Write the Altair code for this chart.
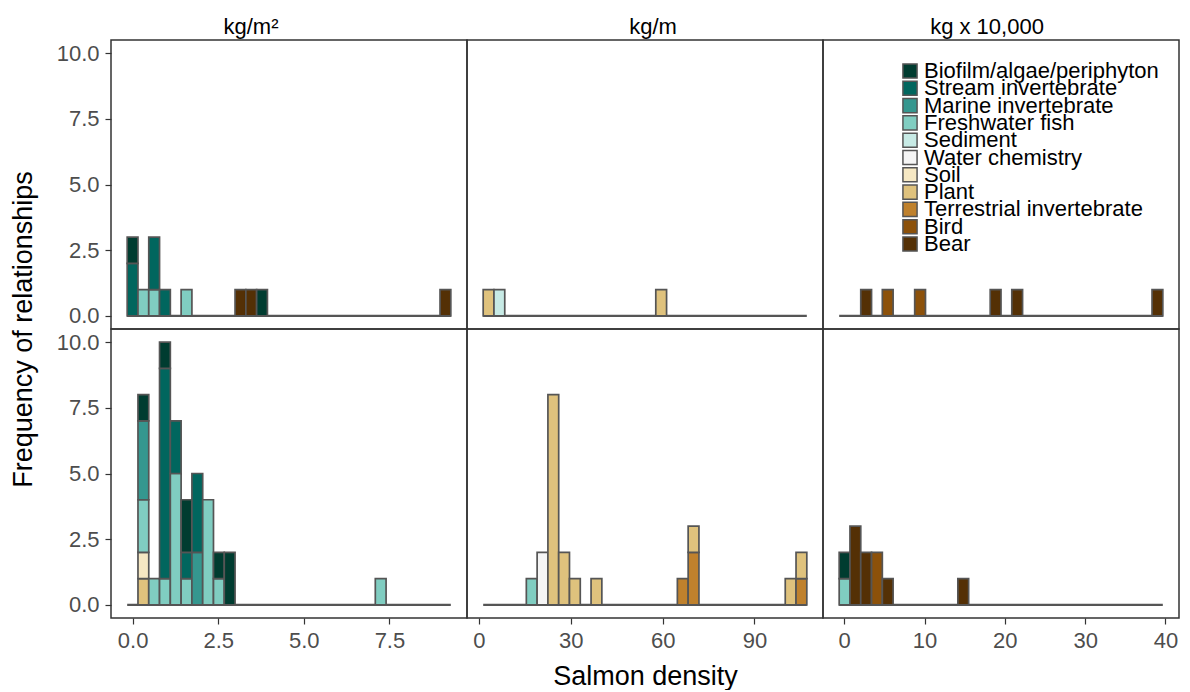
import altair as alt
import pandas as pd

# ---------------- data ----------------
units = ["kg/m²", "kg/m", "kg x 10,000"]
categories = ["Biofilm/algae/periphyton", "Stream invertebrate", "Marine invertebrate",
              "Freshwater fish", "Sediment", "Water chemistry", "Soil", "Plant",
              "Terrestrial invertebrate", "Bird", "Bear"]
palette = ["#003c30", "#01665e", "#35978f", "#80cdc1", "#c7eae5", "#f5f5f5",
           "#f6e8c3", "#dfc27d", "#bf812d", "#8c510a", "#543005"]

# histogram bins (30 bins per column)
bin_first_center = [0.0, 3.16, 0.05]
bin_width = [0.315, 3.523, 1.343]
n_bins = 30

x_ticks = [[0, 2.5, 5, 7.5], [0, 30, 60, 90], [0, 10, 20, 30, 40]]
x_formats = [".1f", "d", "d"]
y_ticks = [0, 2.5, 5, 7.5, 10]

# top row, kg/m2
tl_bin = [0, 0, 1, 2, 2, 3, 5, 10, 11, 12, 29]
tl_cat = ["Stream invertebrate", "Biofilm/algae/periphyton", "Freshwater fish", "Freshwater fish",
          "Stream invertebrate", "Stream invertebrate", "Freshwater fish", "Bear", "Bear",
          "Biofilm/algae/periphyton", "Bear"]
tl_count = [2, 1, 1, 1, 2, 1, 1, 1, 1, 1, 1]

# bottom row, kg/m2
bl_bin = [1, 1, 1, 1, 1, 2, 3, 3, 3, 4, 4, 5, 5, 5, 6, 6, 7, 8, 8, 9, 23]
bl_cat = ["Plant", "Soil", "Freshwater fish", "Marine invertebrate", "Biofilm/algae/periphyton",
          "Freshwater fish",
          "Freshwater fish", "Stream invertebrate", "Biofilm/algae/periphyton",
          "Freshwater fish", "Stream invertebrate",
          "Freshwater fish", "Stream invertebrate", "Biofilm/algae/periphyton",
          "Marine invertebrate", "Stream invertebrate",
          "Freshwater fish",
          "Freshwater fish", "Biofilm/algae/periphyton",
          "Biofilm/algae/periphyton",
          "Freshwater fish"]
bl_count = [1, 1, 2, 3, 1, 1, 1, 8, 1, 5, 2, 1, 1, 2, 2, 3, 4, 1, 1, 2, 1]

# top row, kg/m
tm_bin = [0, 1, 16]
tm_cat = ["Plant", "Sediment", "Plant"]
tm_count = [1, 1, 1]

# bottom row, kg/m
bm_bin = [4, 5, 6, 7, 8, 10, 18, 19, 19, 28, 29, 29]
bm_cat = ["Freshwater fish", "Water chemistry", "Plant", "Plant", "Plant", "Plant",
          "Terrestrial invertebrate", "Terrestrial invertebrate", "Plant", "Plant",
          "Terrestrial invertebrate", "Plant"]
bm_count = [1, 2, 8, 2, 1, 1, 1, 2, 1, 1, 1, 1]

# top row, kg x 10,000
tr_bin = [2, 4, 7, 14, 16, 29]
tr_cat = ["Bear", "Bird", "Bird", "Bear", "Bear", "Bear"]
tr_count = [1, 1, 1, 1, 1, 1]

# bottom row, kg x 10,000
br_bin = [0, 0, 1, 2, 3, 4, 11]
br_cat = ["Freshwater fish", "Biofilm/algae/periphyton", "Bear", "Bear", "Bird", "Bear", "Bear"]
br_count = [1, 1, 3, 2, 2, 1, 1]

panels = {
    (0, 0): (tl_bin, tl_cat, tl_count), (1, 0): (tm_bin, tm_cat, tm_count), (2, 0): (tr_bin, tr_cat, tr_count),
    (0, 1): (bl_bin, bl_cat, bl_count), (1, 1): (bm_bin, bm_cat, bm_count), (2, 1): (br_bin, br_cat, br_count),
}

FONT = "Liberation Sans"
PW, PH = 356, 289
OUT = "#555555"
color_scale = alt.Scale(domain=categories, range=palette)


def panel_df(ui, ri):
    b, c, n = panels[(ui, ri)]
    df = pd.DataFrame({"bin": b, "category": c, "count": n})
    df["rank"] = df["category"].map(lambda s: -categories.index(s))
    df = df.sort_values(["bin", "rank"])
    df["y1"] = df.groupby("bin")["count"].cumsum()
    df["y0"] = df["y1"] - df["count"]
    w = bin_width[ui]
    center = bin_first_center[ui] + df["bin"] * w
    df["x0"] = center - w / 2
    df["x1"] = center + w / 2
    return df


def legend_layers():
    ldf = pd.DataFrame({"category": categories})
    ly = alt.Y("category:N", axis=None,
               scale=alt.Scale(type="point", domain=categories, range=[31, 204], padding=0))
    squares = alt.Chart(ldf).mark_square(size=200, stroke=OUT, strokeWidth=1.5, opacity=1).encode(
        x=alt.value(87), y=ly,
        color=alt.Color("category:N", scale=color_scale, legend=None),
    )
    texts = alt.Chart(ldf).mark_text(align="left", baseline="middle", font=FONT, fontSize=22,
                                     color="black").encode(
        x=alt.value(101), y=ly, text="category:N",
    )
    return [squares, texts]


def make_panel(ui, ri):
    w = bin_width[ui]
    lo = bin_first_center[ui] - w / 2
    hi = bin_first_center[ui] + (n_bins - 0.5) * w
    pad = 0.05 * (hi - lo)
    xscale = alt.Scale(domain=[lo - pad, hi + pad], nice=False, zero=False)
    yscale = alt.Scale(domain=[-0.5, 10.5], nice=False, zero=False)

    if ri == 1:
        xaxis = alt.Axis(values=x_ticks[ui], format=x_formats[ui],
                         title=("Salmon density" if ui == 1 else None), titlePadding=12)
    else:
        xaxis = None
    if ui == 0:
        if ri == 0:
            yaxis = alt.Axis(values=y_ticks, format=".1f", title="Frequency of relationships",
                             titleY=PH, titlePadding=19)
        else:
            yaxis = alt.Axis(values=y_ticks, format=".1f", title=None)
    else:
        yaxis = None

    base = pd.DataFrame({"x0": [lo], "x1": [hi], "y": [0]})
    rule = alt.Chart(base).mark_rule(color=OUT, strokeWidth=2.2).encode(
        x=alt.X("x0:Q", scale=xscale, axis=xaxis),
        x2="x1:Q",
        y=alt.Y("y:Q", scale=yscale, axis=yaxis),
    )
    bars = alt.Chart(panel_df(ui, ri)).mark_rect(stroke=OUT, strokeWidth=1.7).encode(
        x=alt.X("x0:Q", scale=xscale, axis=xaxis),
        x2="x1:Q",
        y=alt.Y("y0:Q", scale=yscale, axis=yaxis),
        y2="y1:Q",
        color=alt.Color("category:N", scale=color_scale, legend=None),
    )
    props = dict(width=PW, height=PH)
    if ri == 0:
        props["title"] = alt.TitleParams(units[ui], anchor="middle", fontSize=22, font=FONT,
                                         fontWeight="normal", color="black", offset=1,
                                         dx=[-38, 8, -14][ui])
    if ui == 2 and ri == 0:
        return alt.layer(rule, bars, *legend_layers()).resolve_scale(y="independent").properties(**props)
    return alt.layer(rule, bars).properties(**props)


chart = alt.concat(
    make_panel(0, 0), make_panel(1, 0), make_panel(2, 0),
    make_panel(0, 1), make_panel(1, 1), make_panel(2, 1),
    columns=3, spacing=0, bounds="flush",
).configure_view(
    stroke="#333333", strokeWidth=1.5
).configure_axis(
    labelFont=FONT, labelFontSize=22, labelColor="#4d4d4d",
    tickColor="#333333", tickSize=6, tickWidth=1.2, domain=False, grid=False,
    titleFont=FONT, titleFontSize=27, titleFontWeight="normal", titleColor="black",
    labelPadding=6,
).properties(padding={"left": 0, "top": 7, "right": 0, "bottom": 0})

chart.save("out.html", embed_options={"renderer": "svg", "actions": False})
